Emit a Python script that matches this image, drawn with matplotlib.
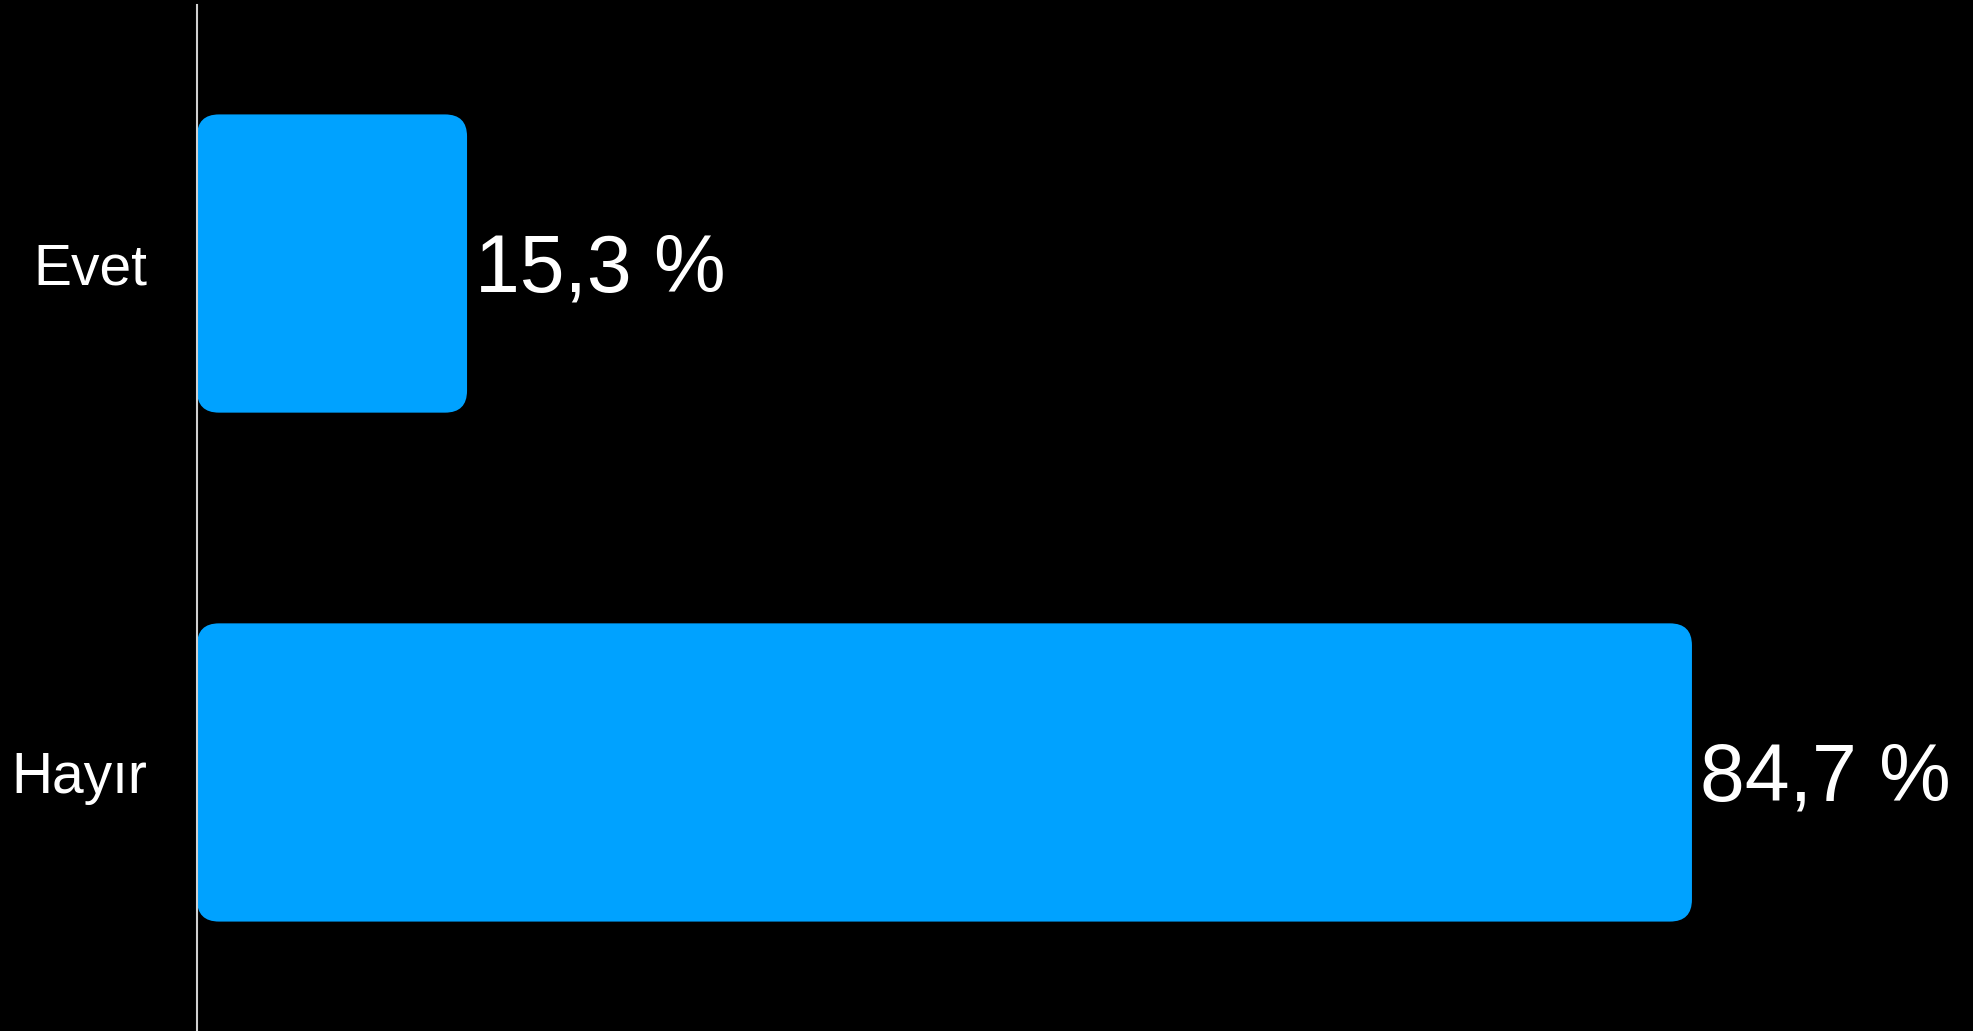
import matplotlib
matplotlib.use("Agg")
import matplotlib.pyplot as plt
from matplotlib.patches import FancyBboxPatch

categories = ["Evet", "Hayır"]
values = [15.3, 84.7]
value_labels = ["15,3 %", "84,7 %"]

plt.rcParams['font.family'] = ['Liberation Sans', 'DejaVu Sans']

W, H = 1973, 1031
AXW = 1765
fig = plt.figure(figsize=(W / 100, H / 100), dpi=100, facecolor="black")
ax = fig.add_axes([197 / W, 0, AXW / W, 1026 / H])
ax.set_facecolor("black")

bar_color = "#00A2FF"
bars = ax.barh(range(len(categories)), values, height=0.586, color=bar_color)
ax.set_xlim(0, 100)
ax.set_ylim(1.508, -0.508)

# replace rectangles with rounded boxes (same bounds)
px_x = AXW / 100.0
px_y = 1026 / 2.016
aspect = px_x / px_y
r_px = 22
for rect in bars:
    x, y = rect.get_x(), rect.get_y()
    w, h = rect.get_width(), rect.get_height()
    rect.set_visible(False)
    p = FancyBboxPatch((x, y), w, h,
                       boxstyle=f"round,pad=0,rounding_size={r_px / px_x}",
                       mutation_aspect=aspect,
                       facecolor=bar_color, edgecolor="none", zorder=2)
    ax.add_patch(p)

for i, (v, lab) in enumerate(zip(values, value_labels)):
    ax.text(v + 0.45, i + 0.014, lab, color="white", fontsize=58,
            va="center", ha="left")

ax.set_yticks(range(len(categories)))
ax.set_yticklabels(categories, fontsize=41, color="white")
ax.tick_params(axis="y", length=0, pad=36)
ax.set_xticks([])

for s in ["top", "right", "bottom"]:
    ax.spines[s].set_visible(False)
ax.spines["left"].set_color("#d0d0d0")
ax.spines["left"].set_linewidth(1.5)

fig.savefig("out.png", dpi=100, facecolor="black")
